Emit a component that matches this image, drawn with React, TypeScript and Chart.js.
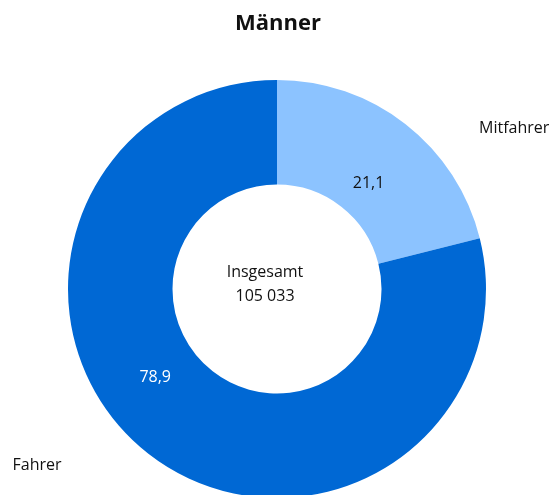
import React, { useEffect, useRef } from "react";
import { Chart, registerables } from "chart.js";

Chart.register(...registerables);

const title = "Männer";
const categories = ["Mitfahrer", "Fahrer"];
const values = [21.1, 78.9];
const valueLabels = ["21,1", "78,9"];
const colors = ["#8cc3ff", "#0068d4"];
const valueTextColors = ["#111111", "#ffffff"];
const centerLines = ["Insgesamt", "105 033"];
const FONT = "'Open Sans', sans-serif";

const labelPlugin = {
  id: "labels",
  afterDraw(chart: any) {
    const ctx = chart.ctx;
    const meta = chart.getDatasetMeta(0);
    const arc0 = meta.data[0];
    const cx = arc0.x;
    const cy = arc0.y;
    const R = arc0.outerRadius;
    ctx.save();
    // title
    ctx.fillStyle = "#111111";
    ctx.font = `bold 22px ${FONT}`;
    ctx.textAlign = "center";
    ctx.textBaseline = "middle";
    ctx.fillText(title, cx + 1, 24);
    // center text
    ctx.font = `16px ${FONT}`;
    ctx.fillText(centerLines[0], cx - 12, cy - 17);
    ctx.fillText(centerLines[1], cx - 12, cy + 7);
    // value labels (angle offsets relative to arc midpoint)
    const angleShift = [0.05, 0.28];
    const radFactor = [0.67, 0.72];
    meta.data.forEach((arc: any, i: number) => {
      const mid = (arc.startAngle + arc.endAngle) / 2 + angleShift[i];
      const r = R * radFactor[i];
      ctx.fillStyle = valueTextColors[i];
      ctx.font = `16px ${FONT}`;
      ctx.fillText(valueLabels[i], cx + Math.cos(mid) * r, cy + Math.sin(mid) * r);
    });
    // category labels outside
    ctx.fillStyle = "#111111";
    ctx.font = `16px ${FONT}`;
    ctx.fillText(categories[0], cx + R * 1.135, cy - R * 0.77);
    ctx.fillText(categories[1], cx - R * 1.148, cy + R * 0.845);
    ctx.restore();
  },
};

export default function App() {
  const ref = useRef<HTMLCanvasElement>(null);
  useEffect(() => {
    document.body.style.margin = "0";
    const chart = new Chart(ref.current!, {
      type: "doughnut",
      data: {
        labels: categories,
        datasets: [
          {
            data: values,
            backgroundColor: colors,
            borderWidth: 0,
          },
        ],
      },
      options: {
        responsive: false,
        animation: false,
        cutout: "50%",
        layout: { padding: { top: 80, bottom: 62, left: 68, right: 69 } },
        plugins: {
          legend: { display: false },
          tooltip: { enabled: false },
          title: { display: false },
        },
      },
      plugins: [labelPlugin],
    });
    return () => chart.destroy();
  }, []);
  return (
    <div style={{ width: 555, height: 495, overflow: "hidden", background: "#fff" }}>
      <canvas ref={ref} width={555} height={560} style={{ display: "block" }} />
    </div>
  );
}
